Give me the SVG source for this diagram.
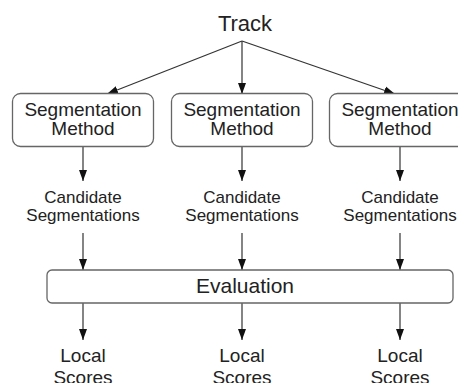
<svg xmlns="http://www.w3.org/2000/svg" width="458" height="383" viewBox="0 0 458 383">
<defs>
<marker id="ah" markerWidth="12" markerHeight="10" refX="11" refY="4.5" orient="auto" markerUnits="userSpaceOnUse">
<path d="M0,0.5 L11,4.5 L0,8.5 Z" fill="#111"/>
</marker>
<style>
text{font-family:"Liberation Sans",Arial,sans-serif;fill:#222;text-anchor:middle}
.box{fill:#fff;stroke:#666;stroke-width:1.3}
.c line{stroke:#333;stroke-width:1.2;marker-end:url(#ah)}
.t{font-size:22px}
.m{font-size:19px}
.s{font-size:17px}
.e{font-size:21px}
</style>
</defs>
<rect width="458" height="383" fill="#fff"/>
<g id="connectors" class="c">
<line x1="242" y1="41" x2="107" y2="94"/>
<line x1="242" y1="41" x2="242" y2="94"/>
<line x1="242" y1="41" x2="395" y2="94"/>
<line x1="83" y1="147" x2="83" y2="181"/>
<line x1="242" y1="147" x2="242" y2="181"/>
<line x1="400" y1="147" x2="400" y2="181"/>
<line x1="83" y1="233" x2="83" y2="270"/>
<line x1="242" y1="233" x2="242" y2="270"/>
<line x1="400" y1="233" x2="400" y2="270"/>
<line x1="83" y1="303" x2="83" y2="340"/>
<line x1="242" y1="303" x2="242" y2="340"/>
<line x1="400" y1="303" x2="400" y2="340"/>
</g>
<g id="track"><text class="t" x="245" y="31">Track</text></g>
<g id="seg1"><rect class="box" x="12.5" y="93.5" width="141" height="53" rx="8"/><text class="m" x="83" y="116">Segmentation</text><text class="m" x="83" y="135">Method</text></g>
<g id="seg2"><rect class="box" x="171.5" y="93.5" width="141" height="53" rx="8"/><text class="m" x="242" y="116">Segmentation</text><text class="m" x="242" y="135">Method</text></g>
<g id="seg3"><rect class="box" x="329.5" y="93.5" width="141" height="53" rx="8"/><text class="m" x="400" y="116">Segmentation</text><text class="m" x="400" y="135">Method</text></g>
<g id="cand1"><text class="s" x="83" y="203">Candidate</text><text class="s" x="83" y="221">Segmentations</text></g>
<g id="cand2"><text class="s" x="242" y="203">Candidate</text><text class="s" x="242" y="221">Segmentations</text></g>
<g id="cand3"><text class="s" x="400" y="203">Candidate</text><text class="s" x="400" y="221">Segmentations</text></g>
<g id="evaluation"><rect class="box" x="47" y="270" width="406" height="33" rx="5"/><text class="e" x="245" y="293">Evaluation</text></g>
<g id="local1"><text class="m" x="83" y="362">Local</text><text class="m" x="83" y="384">Scores</text></g>
<g id="local2"><text class="m" x="242" y="362">Local</text><text class="m" x="242" y="384">Scores</text></g>
<g id="local3"><text class="m" x="400" y="362">Local</text><text class="m" x="400" y="384">Scores</text></g>
</svg>
